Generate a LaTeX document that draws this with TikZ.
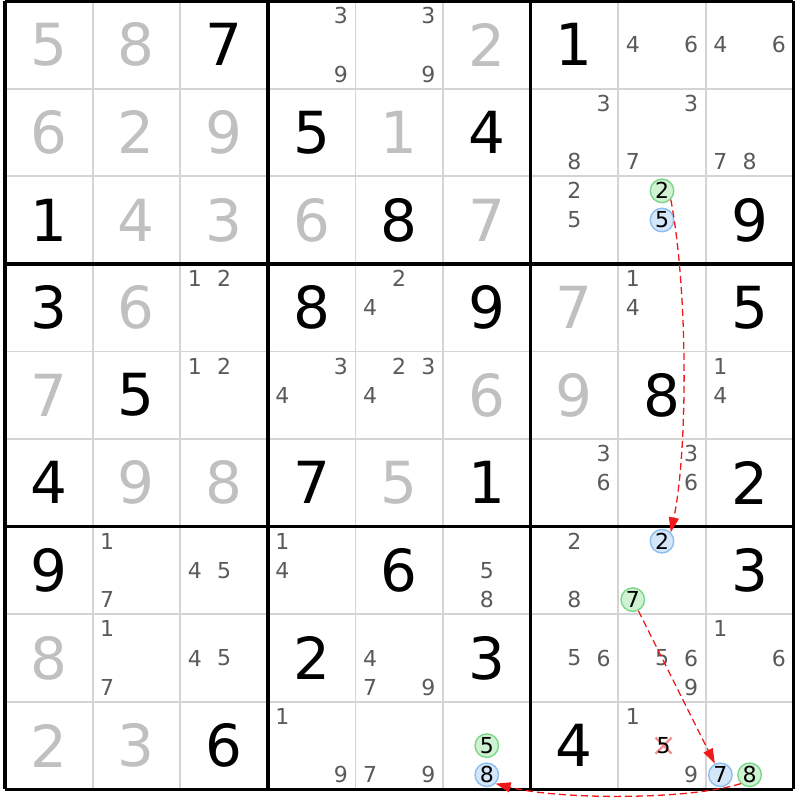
\documentclass[tikz,border=0pt]{standalone}
\usepackage{fontspec}
\setmainfont{DejaVu Sans}
\usetikzlibrary{arrows.meta}
\definecolor{givenc}{HTML}{000000}
\definecolor{solvedc}{HTML}{C0C0C0}
\definecolor{candc}{HTML}{5A5A5A}
\definecolor{thinc}{HTML}{D4D4D4}
\definecolor{gfill}{HTML}{CFF2D2}
\definecolor{gline}{HTML}{7CD68A}
\definecolor{bfill}{HTML}{D3E6FA}
\definecolor{bline}{HTML}{8CBEF0}
\definecolor{arrc}{HTML}{F01818}
\definecolor{crossc}{HTML}{F29090}
\tikzset{
  bigdigit/.style={inner sep=0pt, font=\fontsize{58}{58}\selectfont},
  givenst/.style={bigdigit, text=givenc},
  solvedst/.style={bigdigit, text=solvedc},
  candst/.style={inner sep=0pt, text=candc, font=\fontsize{22}{22}\selectfont},
  circst/.style={circle, inner sep=0pt, minimum size=23.5pt, line width=1.4pt, text=black, font=\fontsize{22}{22}\selectfont},
  greenc/.style={circst, draw=gline, fill=gfill},
  bluec/.style={circst, draw=bline, fill=bfill},
  thinline/.style={draw=thinc, line width=1.8pt},
  thickline/.style={draw=black, line width=3.5pt},
  chain/.style={draw=arrc, line width=1.3pt, dash pattern=on 7pt off 4pt, -{Triangle[length=15pt,width=10pt]}, fill=none},
}
\newcommand\mkgiven[3]{\node[givenst] (g#1#2) at ({5+(#2-0.5)*87.6},{1+(#1-0.5)*87.6}) {#3};}
\newcommand\mksolved[3]{\node[solvedst] (s#1#2) at ({5+(#2-0.5)*87.6},{1+(#1-0.5)*87.6}) {#3};}
\newcommand\mkcands[3]{%
  \foreach \n in {#3}{%
    \pgfmathsetmacro\cx{5+(#2-1)*87.6+(mod(\n-1,3)/3+1/6)*87.6}%
    \pgfmathsetmacro\cy{1+(#1-1)*87.6+(floor((\n-1)/3)/3+1/6)*87.6}%
    \node[candst] (k#1#2\n) at (\cx,\cy) {\n};
  }}
\newcommand\mkcirc[4]{%
  \pgfmathsetmacro\cx{5+(#2-1)*87.6+(mod(#3-1,3)/3+1/6)*87.6}%
  \pgfmathsetmacro\cy{1+(#1-1)*87.6+(floor((#3-1)/3)/3+1/6)*87.6}%
  \node[#4] (k#1#2#3) at (\cx,\cy) {#3};}
\begin{document}
\begin{tikzpicture}[x=1pt,y=-1pt]
\useasboundingbox (0,0) rectangle (800,800);
\fill[white] (0,0) rectangle (800,800);
% thin grid
\foreach \i in {1,2,4,5,7,8}{
  \draw[thinline] ({5+\i*87.6},1) -- ({5+\i*87.6},789.4);
  \draw[thinline] (5,{1+\i*87.6}) -- (793.4,{1+\i*87.6});
}
\foreach \i in {0,3,6,9}{
  \draw[thickline] ({5+\i*87.6},1) -- ({5+\i*87.6},789.4);
  \draw[thickline] (5,{1+\i*87.6}) -- (793.4,{1+\i*87.6});
}
% row 1
\mksolved{1}{1}{5}\mksolved{1}{2}{8}\mkgiven{1}{3}{7}
\mkcands{1}{4}{3,9}\mkcands{1}{5}{3,9}\mksolved{1}{6}{2}
\mkgiven{1}{7}{1}\mkcands{1}{8}{4,6}\mkcands{1}{9}{4,6}
% row 2
\mksolved{2}{1}{6}\mksolved{2}{2}{2}\mksolved{2}{3}{9}
\mkgiven{2}{4}{5}\mksolved{2}{5}{1}\mkgiven{2}{6}{4}
\mkcands{2}{7}{3,8}\mkcands{2}{8}{3,7}\mkcands{2}{9}{7,8}
% row 3
\mkgiven{3}{1}{1}\mksolved{3}{2}{4}\mksolved{3}{3}{3}
\mksolved{3}{4}{6}\mkgiven{3}{5}{8}\mksolved{3}{6}{7}
\mkcands{3}{7}{2,5}\mkcirc{3}{8}{2}{greenc}\mkcirc{3}{8}{5}{bluec}\mkgiven{3}{9}{9}
% row 4
\mkgiven{4}{1}{3}\mksolved{4}{2}{6}\mkcands{4}{3}{1,2}
\mkgiven{4}{4}{8}\mkcands{4}{5}{2,4}\mkgiven{4}{6}{9}
\mksolved{4}{7}{7}\mkcands{4}{8}{1,4}\mkgiven{4}{9}{5}
% row 5
\mksolved{5}{1}{7}\mkgiven{5}{2}{5}\mkcands{5}{3}{1,2}
\mkcands{5}{4}{3,4}\mkcands{5}{5}{2,3,4}\mksolved{5}{6}{6}
\mksolved{5}{7}{9}\mkgiven{5}{8}{8}\mkcands{5}{9}{1,4}
% row 6
\mkgiven{6}{1}{4}\mksolved{6}{2}{9}\mksolved{6}{3}{8}
\mkgiven{6}{4}{7}\mksolved{6}{5}{5}\mkgiven{6}{6}{1}
\mkcands{6}{7}{3,6}\mkcands{6}{8}{3,6}\mkgiven{6}{9}{2}
% row 7
\mkgiven{7}{1}{9}\mkcands{7}{2}{1,7}\mkcands{7}{3}{4,5}
\mkcands{7}{4}{1,4}\mkgiven{7}{5}{6}\mkcands{7}{6}{5,8}
\mkcands{7}{7}{2,8}\mkcirc{7}{8}{2}{bluec}\mkcirc{7}{8}{7}{greenc}\mkgiven{7}{9}{3}
% row 8
\mksolved{8}{1}{8}\mkcands{8}{2}{1,7}\mkcands{8}{3}{4,5}
\mkgiven{8}{4}{2}\mkcands{8}{5}{4,7,9}\mkgiven{8}{6}{3}
\mkcands{8}{7}{5,6}\mkcands{8}{8}{5,6,9}\mkcands{8}{9}{1,6}
% row 9
\mksolved{9}{1}{2}\mksolved{9}{2}{3}\mkgiven{9}{3}{6}
\mkcands{9}{4}{1,9}\mkcands{9}{5}{7,9}\mkcirc{9}{6}{5}{greenc}\mkcirc{9}{6}{8}{bluec}
\mkgiven{9}{7}{4}\mkcands{9}{8}{1,9}\mkcirc{9}{9}{7}{bluec}\mkcirc{9}{9}{8}{greenc}
% crossed 5 in r9c8
\coordinate (xc) at (663.6,745.6);
\draw[crossc, line width=2.4pt] ([shift={(-8,-8)}]xc) -- ([shift={(8,8)}]xc);
\draw[crossc, line width=2.4pt] ([shift={(-8,8)}]xc) -- ([shift={(8,-8)}]xc);
\node[circst, minimum size=0pt, text=black] (k985) at (xc) {5};
% chains
\draw[chain] (k382.south east) .. controls (688,290) and (688,450) .. (k782.north east);
\draw[chain] (k787) -- (k997);
\draw[chain] (k998.south west) .. controls (690,800) and (560,800) .. (k968.south east);
\end{tikzpicture}
\end{document}
